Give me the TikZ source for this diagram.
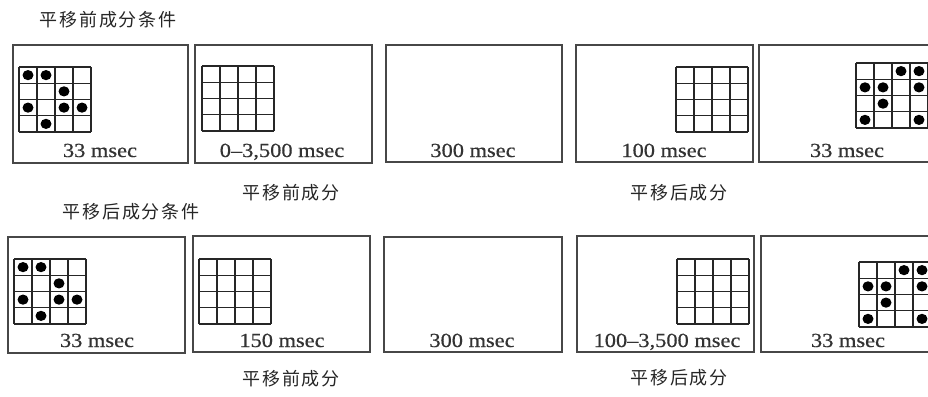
\documentclass[tikz,border=0pt]{standalone}
\usepackage{fontspec}
\newfontfamily\cjk[LetterSpace=11]{Noto Sans CJK SC}
\newfontfamily\lab[FakeStretch=1.12,FakeBold=0.5]{Liberation Serif}
\tikzset{
  panel/.style={draw=black!72, line width=1.5pt, rectangle, inner sep=0pt, outer sep=0pt},
  gridline/.style={draw=black!85, line width=1.1pt},
  dotmark/.style={fill=black},
  timelabel/.style={font=\lab\fontsize{20}{22}\selectfont, text=black!80, inner sep=0pt, anchor=base},
  cjklabel/.style={font=\cjk\fontsize{18}{20}\selectfont, text=black!85, inner sep=0pt},
}
\newcommand\stimgrid[3]{%
  \begin{scope}[shift={(#1,#2)}]
    \foreach \i in {0,...,4} {
      \draw[gridline] (\i*18,0) -- (\i*18,65);
      \draw[gridline] (0,\i*16.25) -- (72,\i*16.25);
    }
    \foreach \c/\r in {#3} {
      \fill[dotmark] (\c*18-9,\r*16.25-8.125) ellipse (5.5 and 5.1);
    }
  \end{scope}}
\begin{document}
\begin{tikzpicture}[x=1pt,y=-1pt]
\useasboundingbox (0,0) rectangle (928,396);
\clip (0,0) rectangle (928,396);
% titles and captions
\node[cjklabel] (title1) at (108,20) {平移前成分条件};
\node[cjklabel] (cap1a) at (291,193) {平移前成分};
\node[cjklabel] (cap1b) at (679,193) {平移后成分};
\node[cjklabel] (title2) at (131,212) {平移后成分条件};
\node[cjklabel] (cap2a) at (291,379) {平移前成分};
\node[cjklabel] (cap2b) at (679,378) {平移后成分};
% top row panels
\node[panel, minimum width=175pt, minimum height=118pt] (t1) at (100.5,104) {};
\node[panel, minimum width=177pt, minimum height=118pt] (t2) at (283.5,104) {};
\node[panel, minimum width=176pt, minimum height=117pt] (t3) at (474,103.5) {};
\node[panel, minimum width=177pt, minimum height=117pt] (t4) at (664.5,103.5) {};
\node[panel, minimum width=177pt, minimum height=117pt] (t5) at (847.5,103.5) {};
% bottom row panels
\node[panel, minimum width=177pt, minimum height=116pt] (b1) at (96.5,295) {};
\node[panel, minimum width=177pt, minimum height=116pt] (b2) at (281.5,294) {};
\node[panel, minimum width=178pt, minimum height=115pt] (b3) at (473,294.5) {};
\node[panel, minimum width=177pt, minimum height=116pt] (b4) at (665.5,294) {};
\node[panel, minimum width=177pt, minimum height=116pt] (b5) at (849.5,294) {};
% grids
\stimgrid{19}{67}{1/1,2/1,3/2,1/3,3/3,4/3,2/4}
\stimgrid{202}{66}{}
\stimgrid{676}{67}{}
\stimgrid{856}{63}{3/1,4/1,1/2,2/2,4/2,2/3,1/4,4/4}
\stimgrid{14}{259}{1/1,2/1,3/2,1/3,3/3,4/3,2/4}
\stimgrid{199}{259}{}
\stimgrid{677}{259}{}
\stimgrid{859}{262}{3/1,4/1,1/2,2/2,4/2,2/3,1/4,4/4}
% time labels
\node[timelabel] (lt1) at (100,157) {33 msec};
\node[timelabel] (lt2) at (282,157) {0–3,500 msec};
\node[timelabel] (lt3) at (473,157) {300 msec};
\node[timelabel] (lt4) at (664,157) {100 msec};
\node[timelabel] (lt5) at (847,157) {33 msec};
\node[timelabel] (lb1) at (97,347) {33 msec};
\node[timelabel] (lb2) at (282,347) {150 msec};
\node[timelabel] (lb3) at (472,347) {300 msec};
\node[timelabel] (lb4) at (667,347) {100–3,500 msec};
\node[timelabel] (lb5) at (848,347) {33 msec};
\end{tikzpicture}
\end{document}
